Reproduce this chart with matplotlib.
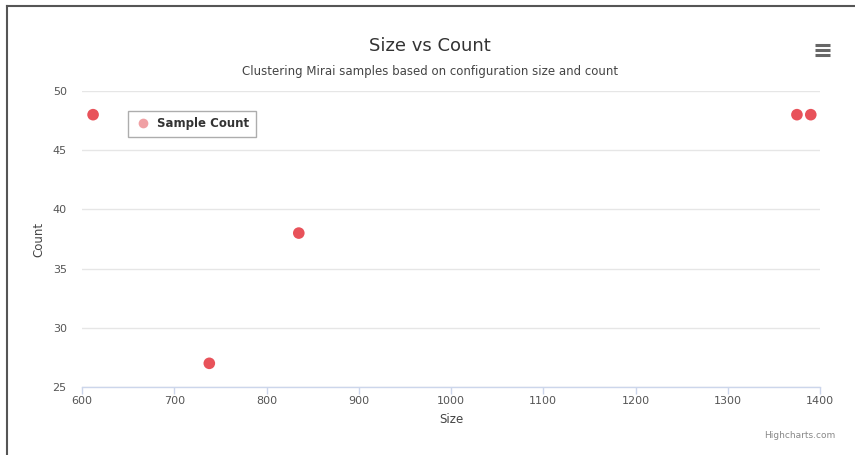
import matplotlib.pyplot as plt
from matplotlib.lines import Line2D

# Mirai samples: configuration size vs count
sizes = [612, 738, 835, 1375, 1390]
counts = [48, 27, 38, 48, 48]
x_ticks = [600, 700, 800, 900, 1000, 1100, 1200, 1300, 1400]
y_ticks = [25, 30, 35, 40, 45, 50]

plt.rcParams['font.family'] = ['DejaVu Sans']

fig = plt.figure(figsize=(8.55, 4.55), dpi=100)
ax = fig.add_axes([82 / 855, 1 - 387 / 455, 738 / 855, 296 / 455])

ax.scatter(sizes, counts, s=70, color='#e8525a', edgecolors='none', zorder=3, clip_on=False)

ax.set_xlim(600, 1400)
ax.set_ylim(25, 50)
ax.set_xticks(x_ticks)
ax.set_yticks(y_ticks)
ax.grid(axis='y', color='#e6e6e6', linewidth=1)
ax.set_axisbelow(True)

for side in ['top', 'right', 'left']:
    ax.spines[side].set_visible(False)
ax.spines['bottom'].set_color('#ccd6eb')
ax.spines['bottom'].set_linewidth(1)

ax.tick_params(axis='x', direction='out', length=5, width=1, color='#ccd6eb',
               labelsize=8, labelcolor='#555555', pad=1.5)
ax.tick_params(axis='y', length=0, labelsize=8, labelcolor='#555555', pad=11)

ax.set_xlabel('Size', fontsize=8.5, color='#444444', labelpad=5)
ax.set_ylabel('Count', fontsize=8.5, color='#444444', labelpad=5)

fig.text(430 / 855, 1 - 46 / 455, 'Size vs Count', ha='center', va='center',
         fontsize=13, color='#333333')
fig.text(430 / 855, 1 - 71 / 455, 'Clustering Mirai samples based on configuration size and count',
         ha='center', va='center', fontsize=8.5, color='#444444')
fig.text(835 / 855, 1 - 436 / 455, 'Highcharts.com', ha='right', va='center',
         fontsize=6.5, color='#888888')

# legend
leg_handle = Line2D([], [], marker='o', linestyle='none', markersize=7,
                    markerfacecolor='#f0a0a4', markeredgecolor='none')
leg = ax.legend([leg_handle], ['Sample Count'], loc='upper left',
                bbox_to_anchor=(46 / 738, 1 - 20 / 296), frameon=True, fancybox=False,
                prop={'size': 8.5, 'weight': 'bold'}, handletextpad=0.5,
                borderpad=0.55, handlelength=1.4, borderaxespad=0)
leg.get_frame().set_edgecolor('#999999')
leg.get_frame().set_linewidth(1)
for t in leg.get_texts():
    t.set_color('#333333')

# export menu icon
for yy in [45, 50, 55]:
    fig.add_artist(Line2D([815 / 855, 830 / 855], [1 - yy / 455, 1 - yy / 455],
                          color='#666666', linewidth=2.2, solid_capstyle='butt'))

# outer frame (left and top)
fig.add_artist(Line2D([7 / 855, 7 / 855], [0, 1 - 6 / 455], color='#555555', linewidth=1.5))
fig.add_artist(Line2D([7 / 855, 1], [1 - 6 / 455, 1 - 6 / 455], color='#555555', linewidth=1.5))

fig.savefig('out.png', dpi=100)
